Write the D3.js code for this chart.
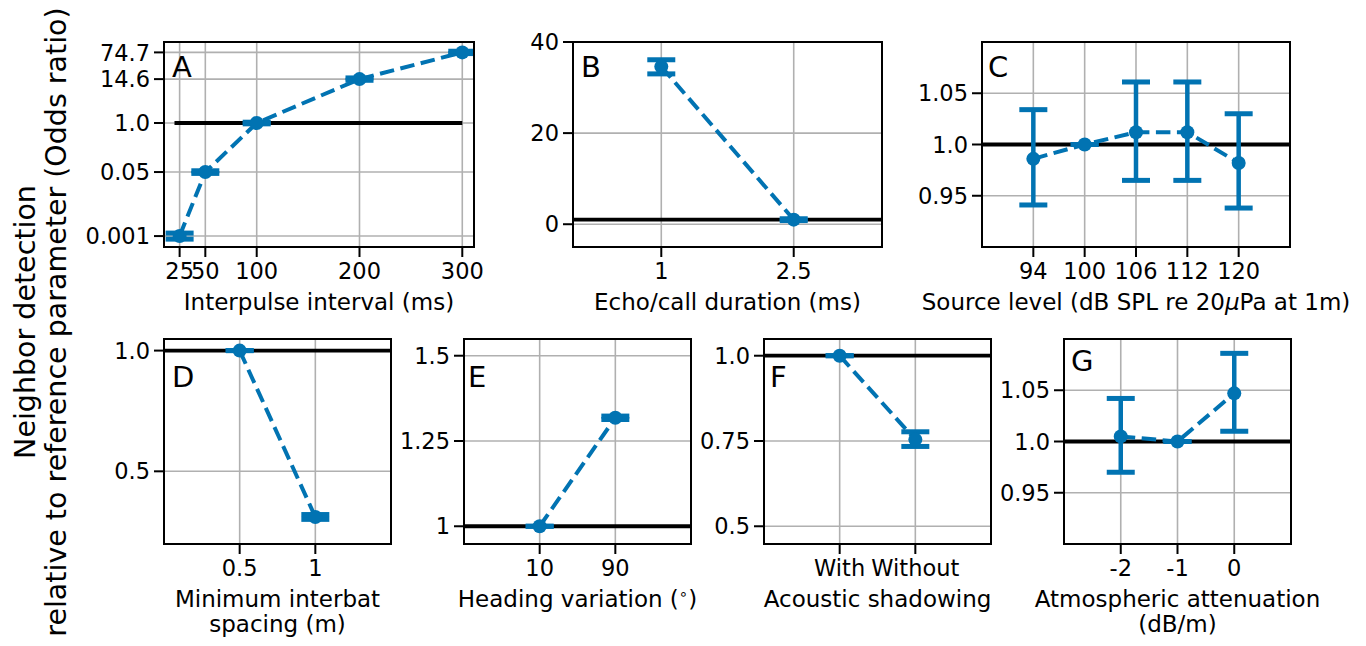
<!DOCTYPE html>
<html>
<head>
<meta charset="utf-8">
<script src="https://cdn.jsdelivr.net/npm/d3@7"></script>
<style>
  body { margin: 0; background: #fff; }
  text { font-family: "DejaVu Sans", sans-serif; fill: #000; }
</style>
</head>
<body>
<div id="fig"></div>
<script>
// ---- data ----
// A: interpulse interval
const ipiX = [25, 50, 100, 200, 300];
const ipiOdds = [0.001, 0.05, 1.0, 14.6, 74.7];
const ipiLow = [0.00083, 0.046, 0.95, 13.6, 69.5];
const ipiHigh = [0.0012, 0.054, 1.05, 15.7, 80.2];
const ipiYTicks = [0.001, 0.05, 1.0, 14.6, 74.7];
const ipiYLabels = ["0.001", "0.05", "1.0", "14.6", "74.7"];
const ipiXLabels = ["25", "50", "100", "200", "300"];

// B: echo/call duration
const durX = [1, 2.5];
const durXLabels = ["1", "2.5"];
const durOdds = [34.6, 1.0];
const durLow = [33.0, 0.8];
const durHigh = [36.1, 1.2];
const durYTicks = [0, 20, 40];
const durYLabels = ["0", "20", "40"];

// C: source level (categorical)
const levelXLabels = ["94", "100", "106", "112", "120"];
const levelOdds = [0.986, 1.0, 1.012, 1.012, 0.982];
const levelLow = [0.941, 1.0, 0.965, 0.965, 0.938];
const levelHigh = [1.034, 1.0, 1.061, 1.061, 1.030];
const levelYTicks = [0.95, 1.0, 1.05];
const levelYLabels = ["0.95", "1.0", "1.05"];

// D: minimum interbat spacing
const spacingX = [0.5, 1];
const spacingXLabels = ["0.5", "1"];
const spacingOdds = [1.0, 0.311];
const spacingLow = [1.0, 0.301];
const spacingHigh = [1.0, 0.321];
const spacingYTicks = [0.5, 1.0];
const spacingYLabels = ["0.5", "1.0"];

// E: heading variation (categorical)
const headingXLabels = ["10", "90"];
const headingOdds = [1.0, 1.318];
const headingLow = [1.0, 1.313];
const headingHigh = [1.0, 1.323];
const headingYTicks = [1, 1.25, 1.5];
const headingYLabels = ["1", "1.25", "1.5"];

// F: acoustic shadowing (categorical)
const shadowXLabels = ["With", "Without"];
const shadowOdds = [1.0, 0.754];
const shadowLow = [1.0, 0.734];
const shadowHigh = [1.0, 0.777];
const shadowYTicks = [0.5, 0.75, 1.0];
const shadowYLabels = ["0.5", "0.75", "1.0"];

// G: atmospheric attenuation
const attenX = [-2, -1, 0];
const attenXLabels = ["-2", "-1", "0"];
const attenOdds = [1.005, 1.0, 1.047];
const attenLow = [0.970, 1.0, 1.010];
const attenHigh = [1.042, 1.0, 1.086];
const attenYTicks = [0.95, 1.0, 1.05];
const attenYLabels = ["0.95", "1.0", "1.05"];

const blue = "#0173b2";
const idx = arr => arr.map((d, i) => i);

const svg = d3.select("#fig").append("svg")
  .attr("width", 1366).attr("height", 646);

function drawPanel(p) {
  const g = svg.append("g").attr("transform", `translate(${p.left},${p.top})`);
  const w = p.width, h = p.height;
  const x = d3.scaleLinear().domain(p.xDomain).range([0, w]);
  const y = (p.log ? d3.scaleLog() : d3.scaleLinear()).domain(p.yDomain).range([h, 0]);

  const clipId = "clip" + p.letter;
  g.append("clipPath").attr("id", clipId)
    .append("rect").attr("width", w).attr("height", h);

  // grid
  const grid = g.append("g");
  grid.selectAll(".gx").data(p.x).enter().append("line")
    .attr("x1", d => x(d)).attr("x2", d => x(d))
    .attr("y1", 0).attr("y2", h)
    .attr("stroke", "#b0b0b0").attr("stroke-width", 1.6);
  grid.selectAll(".gy").data(p.yTicks).enter().append("line")
    .attr("y1", d => y(d)).attr("y2", d => y(d))
    .attr("x1", 0).attr("x2", w)
    .attr("stroke", "#b0b0b0").attr("stroke-width", 1.6);

  const plot = g.append("g").attr("clip-path", `url(#${clipId})`);

  // reference line at odds ratio 1
  const refX = p.refX || p.xDomain;
  plot.append("line")
    .attr("x1", x(refX[0])).attr("x2", x(refX[1]))
    .attr("y1", y(1)).attr("y2", y(1))
    .attr("stroke", "#000").attr("stroke-width", 3.8);

  const pts = p.x.map((xv, i) => ({ x: xv, v: p.odds[i], lo: p.low[i], hi: p.high[i] }));

  // dashed connecting line
  plot.append("path").datum(pts)
    .attr("d", d3.line().x(d => x(d.x)).y(d => y(d.v)))
    .attr("fill", "none").attr("stroke", blue)
    .attr("stroke-width", 4).attr("stroke-dasharray", "14.5,6.5");

  // error bars
  const eb = plot.selectAll(".eb").data(pts).enter().append("g");
  eb.append("line")
    .attr("x1", d => x(d.x)).attr("x2", d => x(d.x))
    .attr("y1", d => y(d.lo)).attr("y2", d => y(d.hi))
    .attr("stroke", blue).attr("stroke-width", 4.5);
  ["lo", "hi"].forEach(k => {
    eb.append("line")
      .attr("x1", d => x(d.x) - 14).attr("x2", d => x(d.x) + 14)
      .attr("y1", d => y(d[k])).attr("y2", d => y(d[k]))
      .attr("stroke", blue).attr("stroke-width", 5);
  });

  // markers
  plot.selectAll(".dot").data(pts).enter().append("circle")
    .attr("cx", d => x(d.x)).attr("cy", d => y(d.v))
    .attr("r", 7).attr("fill", blue);

  // frame
  g.append("rect").attr("width", w).attr("height", h)
    .attr("fill", "none").attr("stroke", "#000").attr("stroke-width", 2);

  // x ticks
  const xt = g.selectAll(".xt").data(p.x).enter().append("g")
    .attr("transform", d => `translate(${x(d)},${h})`);
  xt.append("line").attr("y2", 10).attr("stroke", "#000").attr("stroke-width", 2);
  xt.append("text").attr("y", 32).attr("text-anchor", "middle")
    .style("font-size", "22.5px").text((d, i) => p.xLabels[i]);

  // y ticks
  const yt = g.selectAll(".yt").data(p.yTicks).enter().append("g")
    .attr("transform", d => `translate(0,${y(d)})`);
  yt.append("line").attr("x2", -10).attr("stroke", "#000").attr("stroke-width", 2);
  yt.append("text").attr("x", -14).attr("dy", "0.36em").attr("text-anchor", "end")
    .style("font-size", "22.5px").text((d, i) => p.yLabels[i]);

  // panel letter
  g.append("text").attr("x", p.letterPos[0]).attr("y", p.letterPos[1])
    .style("font-size", "29px").text(p.letter);

  // axis title
  const title = g.append("text").attr("x", w / 2).attr("y", h + 63)
    .attr("text-anchor", "middle").style("font-size", "23px");
  if (p.title) p.title(title);
}

drawPanel({
  letter: "A", left: 164, top: 42, width: 310, height: 205,
  x: ipiX, xLabels: ipiXLabels, odds: ipiOdds, low: ipiLow, high: ipiHigh,
  yTicks: ipiYTicks, yLabels: ipiYLabels,
  xDomain: [9.8, 311.4], yDomain: [0.000513, 141], log: true, refX: [20, 300],
  letterPos: [8, 35],
  title: t => t.text("Interpulse interval (ms)")
});

drawPanel({
  letter: "B", left: 573, top: 42, width: 309, height: 205,
  x: durX, xLabels: durXLabels, odds: durOdds, low: durLow, high: durHigh,
  yTicks: durYTicks, yLabels: durYLabels,
  xDomain: [0, 3.5], yDomain: [-5, 40],
  letterPos: [8, 35],
  title: t => t.text("Echo/call duration (ms)")
});

drawPanel({
  letter: "C", left: 982, top: 42, width: 308, height: 205,
  x: idx(levelXLabels), xLabels: levelXLabels, odds: levelOdds, low: levelLow, high: levelHigh,
  yTicks: levelYTicks, yLabels: levelYLabels,
  xDomain: [-1, 5], yDomain: [0.9, 1.1],
  letterPos: [6, 35],
  title: t => {
    t.append("tspan").text("Source level (dB SPL re 20");
    t.append("tspan").style("font-style", "italic").text("\u03bc");
    t.append("tspan").text("Pa at 1m)");
  }
});

drawPanel({
  letter: "D", left: 164, top: 339, width: 227, height: 205,
  x: spacingX, xLabels: spacingXLabels, odds: spacingOdds, low: spacingLow, high: spacingHigh,
  yTicks: spacingYTicks, yLabels: spacingYLabels,
  xDomain: [0, 1.5], yDomain: [0.199, 1.048],
  letterPos: [8, 48],
  title: t => {
    t.append("tspan").attr("x", 113.5).text("Minimum interbat");
    t.append("tspan").attr("x", 113.5).attr("dy", 25).text("spacing (m)");
  }
});

drawPanel({
  letter: "E", left: 464, top: 339, width: 227, height: 205,
  x: idx(headingXLabels), xLabels: headingXLabels, odds: headingOdds, low: headingLow, high: headingHigh,
  yTicks: headingYTicks, yLabels: headingYLabels,
  xDomain: [-1, 2], yDomain: [0.948, 1.549],
  letterPos: [4, 48],
  title: t => {
    t.append("tspan").text("Heading variation (");
    t.append("tspan").attr("dy", -8).style("font-size", "15px").text("\u2218");
    t.append("tspan").attr("dy", 8).text(")");
  }
});

drawPanel({
  letter: "F", left: 764, top: 339, width: 227, height: 205,
  x: idx(shadowXLabels), xLabels: shadowXLabels, odds: shadowOdds, low: shadowLow, high: shadowHigh,
  yTicks: shadowYTicks, yLabels: shadowYLabels,
  xDomain: [-1, 2], yDomain: [0.448, 1.049],
  letterPos: [6, 48],
  title: t => t.text("Acoustic shadowing")
});

drawPanel({
  letter: "G", left: 1064, top: 339, width: 227, height: 205,
  x: attenX, xLabels: attenXLabels, odds: attenOdds, low: attenLow, high: attenHigh,
  yTicks: attenYTicks, yLabels: attenYLabels,
  xDomain: [-3, 1], yDomain: [0.9, 1.1],
  letterPos: [7, 32],
  title: t => {
    t.append("tspan").attr("x", 113.5).text("Atmospheric attenuation");
    t.append("tspan").attr("x", 113.5).attr("dy", 25).text("(dB/m)");
  }
});

// shared y label
const ylab = svg.append("text")
  .attr("transform", "translate(35,322) rotate(-90)")
  .attr("text-anchor", "middle").style("font-size", "28.5px");
ylab.append("tspan").attr("x", 0).text("Neighbor detection");
ylab.append("tspan").attr("x", 0).attr("dy", 31).text("relative to reference parameter (Odds ratio)");
</script>
</body>
</html>
